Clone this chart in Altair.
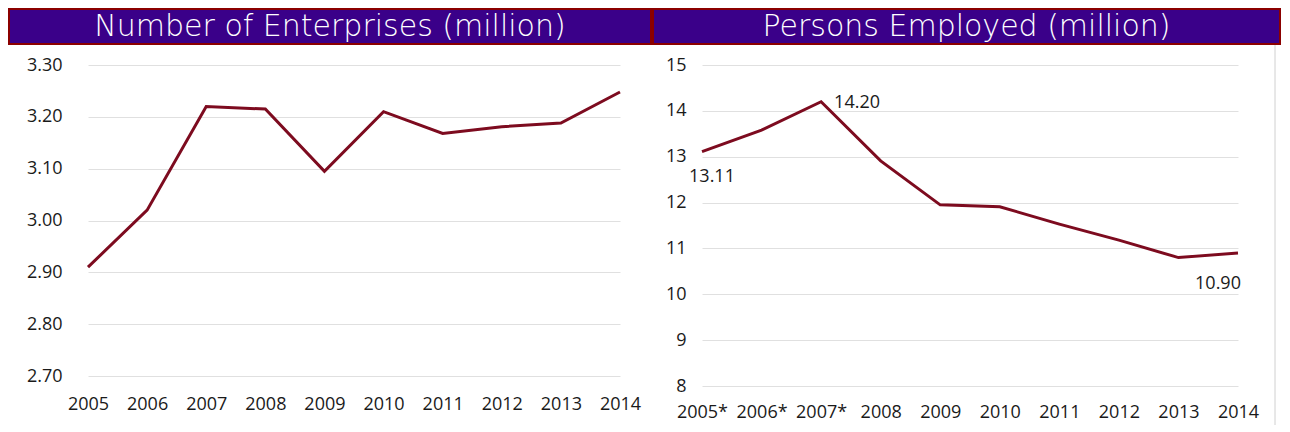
import altair as alt
import pandas as pd

# ---- data ----
years_left = ["2005", "2006", "2007", "2008", "2009", "2010", "2011", "2012", "2013", "2014"]
enterprises = [2.91, 3.02, 3.22, 3.215, 3.095, 3.21, 3.168, 3.181, 3.188, 3.248]

years_right = ["2005*", "2006*", "2007*", "2008", "2009", "2010", "2011", "2012", "2013", "2014"]
employed = [13.11, 13.58, 14.20, 12.91, 11.95, 11.91, 11.53, 11.18, 10.80, 10.90]
employed_labels = ["13.11", "", "14.20", "", "", "", "", "", "", "10.90"]

left_ticks = [2.7, 2.8, 2.9, 3.0, 3.1, 3.2, 3.3]
right_ticks = [8, 9, 10, 11, 12, 13, 14, 15]

title_left = "Number of Enterprises (million)"
title_right = "Persons Employed (million)"

LINE = "#7D0B1F"
BAR_FILL = "#3A0089"
BAR_STROKE = "#8B0000"
FONT = "Open Sans"
TFONT = "DejaVu Sans"

df_left = pd.DataFrame({"year": years_left, "value": enterprises})
df_right = pd.DataFrame({"year": years_right, "value": employed, "label": employed_labels})

W1, H1 = 532, 311
W2, H2 = 536, 321


def title_layers(title, x0, x1):
    d = alt.Data(values=[{"t": title}])
    bar = alt.Chart(d).mark_rect(fill=BAR_FILL, stroke=BAR_STROKE, strokeWidth=2).encode(
        x=alt.value(x0), x2=alt.value(x1), y=alt.value(-56), y2=alt.value(-21)
    )
    txt = alt.Chart(d).mark_text(
        font=TFONT, fontSize=30, fontWeight=200, color="white", align="center", baseline="middle"
    ).encode(
        x=alt.value((x0 + x1) / 2), y=alt.value(-38), text="t:N"
    )
    return bar + txt


# ---- left panel ----
xl = alt.X("year:N", sort=years_left, scale=alt.Scale(type="point", padding=0),
           axis=alt.Axis(title=None, labelAngle=0, domain=False, ticks=False, grid=False,
                         labelPadding=19))
yl = alt.Y("value:Q", scale=alt.Scale(domain=[2.7, 3.3], nice=False, zero=False),
           axis=alt.Axis(title=None, values=left_ticks, format=".2f", domain=False, ticks=False,
                         labelPadding=26, grid=True))

left_line = alt.Chart(df_left).mark_line(color=LINE, strokeWidth=3).encode(x=xl, y=yl)
left = alt.layer(title_layers(title_left, -79, 563), left_line).properties(width=W1, height=H1)

# ---- right panel ----
xr = alt.X("year:N", sort=years_right, scale=alt.Scale(type="point", padding=0),
           axis=alt.Axis(title=None, labelAngle=0, domain=False, ticks=False, grid=False,
                         labelPadding=17))
yr = alt.Y("value:Q", scale=alt.Scale(domain=[8, 15], nice=False, zero=False),
           axis=alt.Axis(title=None, values=right_ticks, format="d", domain=False, ticks=False,
                         labelPadding=16, grid=True))

base_r = alt.Chart(df_right)
right_line = base_r.mark_line(color=LINE, strokeWidth=3).encode(x=xr, y=yr)
lab_a = base_r.transform_filter(alt.datum.year == "2005*").mark_text(
    font=FONT, fontSize=18, color="#1a1a1a", align="center", baseline="middle", dx=10, dy=25
).encode(x=xr, y=yr, text="label:N")
lab_b = base_r.transform_filter(alt.datum.year == "2007*").mark_text(
    font=FONT, fontSize=18, color="#1a1a1a", align="left", baseline="middle", dx=13, dy=1
).encode(x=xr, y=yr, text="label:N")
lab_c = base_r.transform_filter(alt.datum.year == "2014").mark_text(
    font=FONT, fontSize=18, color="#1a1a1a", align="center", baseline="middle", dx=-20, dy=31
).encode(x=xr, y=yr, text="label:N")

border = alt.Chart(alt.Data(values=[{"a": 1}])).mark_rule(color="#d0d0d0", strokeWidth=1).encode(
    x=alt.value(573), y=alt.value(-20), y2=alt.value(360)
)

right = alt.layer(title_layers(title_right, -49, 578), border, right_line, lab_a, lab_b, lab_c).properties(
    width=W2, height=H2
)

chart = alt.hconcat(left, right, spacing=0).properties(
    padding=0, background="white"
).configure_view(
    stroke=None
).configure_axis(
    labelFont=FONT, labelFontSize=18, labelColor="#1a1a1a", gridColor="#e0e0e0", gridWidth=1
)

chart.save("out.html", embed_options={"renderer": "svg", "actions": False})
